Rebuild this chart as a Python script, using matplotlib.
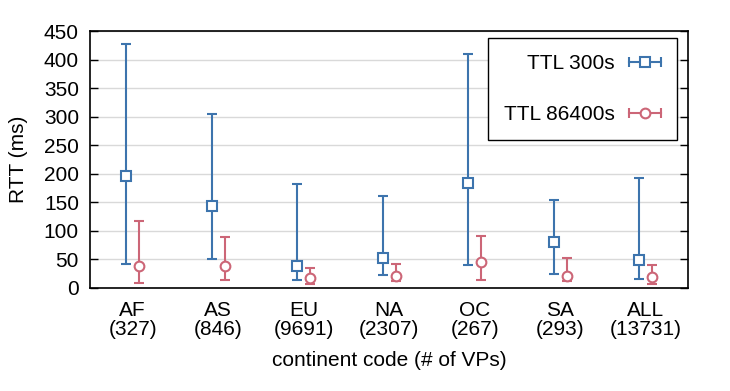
import numpy as np
import matplotlib
matplotlib.use("Agg")
import matplotlib.pyplot as plt
from matplotlib.legend_handler import HandlerBase
from matplotlib.lines import Line2D

plt.rcParams['font.family'] = ['Liberation Sans', 'DejaVu Sans']

categories = ["AF\n(327)", "AS\n(846)", "EU\n(9691)", "NA\n(2307)", "OC\n(267)", "SA\n(293)", "ALL\n(13731)"]

ttl300_mid = [195, 144, 37, 52, 184, 80, 48]
ttl300_low = [42, 50, 13, 22, 39, 23, 15]
ttl300_high = [428, 305, 182, 160, 411, 154, 193]

ttl86400_mid = [38, 38, 17, 21, 44, 21, 19]
ttl86400_low = [8, 14, 6, 11, 13, 11, 6]
ttl86400_high = [116, 89, 34, 42, 91, 52, 40]

blue = "#3d74ad"
red = "#cc6677"

fig = plt.figure(figsize=(7.30, 3.91), dpi=100)
ax = fig.add_axes([90/730, 1-287.5/391, 598.3/730, 256.2/391])

x = np.arange(len(categories))
off = 0.076

def draw(xs, mid, low, high, color, marker, label):
    mid = np.array(mid, float); low = np.array(low, float); high = np.array(high, float)
    return ax.errorbar(xs, mid, yerr=[mid - low, high - mid], fmt=marker, color=color,
                       mfc='white', mec=color, mew=1.5, ms=7, elinewidth=1.5,
                       capsize=3.5, capthick=1.5, label=label, zorder=3)

h1 = draw(x - off, ttl300_mid, ttl300_low, ttl300_high, blue, 's', 'TTL 300s')
h2 = draw(x + off, ttl86400_mid, ttl86400_low, ttl86400_high, red, 'o', 'TTL 86400s')


class HErr(HandlerBase):
    def create_artists(self, legend, orig_handle, xdescent, ydescent, width, height, fontsize, trans):
        ln = orig_handle.lines[0]
        c = ln.get_mec()
        y = height / 2 - ydescent
        x0, x1 = -xdescent, width - xdescent
        bar = Line2D([x0, x1], [y, y], color=c, lw=1.5)
        caps = Line2D([x0, x1], [y, y], ls='none', marker='|', ms=7, mew=1.5, color=c)
        mk = Line2D([(x0 + x1) / 2], [y], ls='none', marker=ln.get_marker(), ms=7,
                    mfc='white', mec=c, mew=1.5)
        for a in (bar, caps, mk):
            a.set_transform(trans)
        return [bar, caps, mk]


leg = ax.legend(handles=[h1, h2], handler_map={h1: HErr(), h2: HErr()},
                loc='upper right', bbox_to_anchor=(0.981, 0.973), borderaxespad=0,
                fontsize=15, markerfirst=False, fancybox=False, framealpha=1,
                edgecolor='black', labelspacing=1.55, borderpad=0.75,
                handlelength=1.55, handletextpad=0.7)
leg.get_frame().set_linewidth(1.0)

ax.set_xlim(-0.5, 6.5)
ax.set_ylim(0, 450)
ax.set_yticks(np.arange(0, 451, 50))
ax.set_xticks(x)
ax.set_xticklabels(categories)
ax.tick_params(axis='y', direction='in', length=6, width=1, right=True, labelsize=15, pad=8)
ax.tick_params(axis='x', length=0, labelsize=15, pad=10)
for lbl in ax.get_xticklabels():
    lbl.set_linespacing(0.95)
ax.grid(axis='y', color='#d9d9d9', lw=1)
ax.set_axisbelow(True)
for s in ax.spines.values():
    s.set_linewidth(1.2)

ax.set_ylabel("RTT (ms)", fontsize=15, labelpad=11)
ax.set_xlabel("continent code (# of VPs)", fontsize=15, labelpad=9)

fig.savefig("out.png", dpi=100)
